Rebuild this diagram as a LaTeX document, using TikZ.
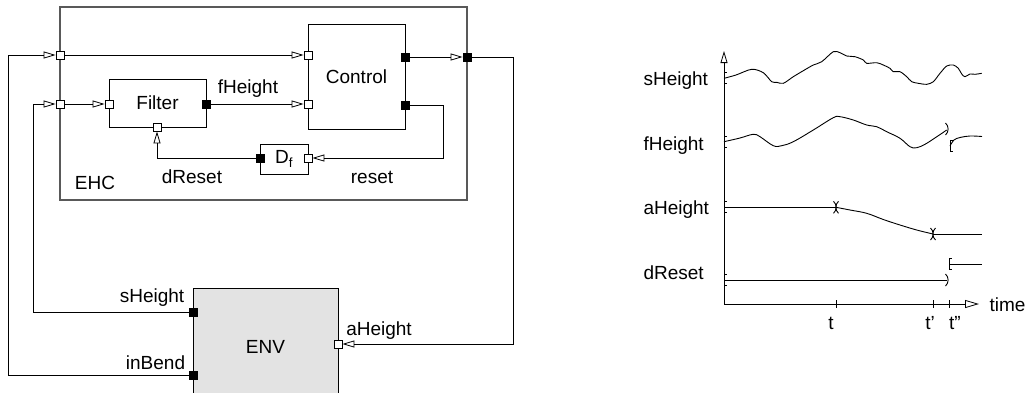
\documentclass[tikz,border=0pt]{standalone}
\usepackage{fontspec}
\setmainfont{Liberation Sans}
\usetikzlibrary{arrows.meta, positioning}

\tikzset{
    block/.style={draw, line width=0.9pt, inner sep=0pt},
    inport/.style={draw, fill=white, line width=0.8pt, minimum size=8pt, inner sep=0pt},
    outport/.style={draw, fill=black, line width=0.8pt, minimum size=8pt, inner sep=0pt},
    sig/.style={line width=0.8pt, -{Triangle[open, length=12pt, width=7pt]}},
    wave/.style={line width=0.9pt},
}
\newcommand\markbr[2]{\draw[wave] (#1+2.5,#2-5.5) -- (#1,#2-5.5) -- (#1,#2+5.5) -- (#1+2.5,#2+5.5);}
\newcommand\markrp[2]{\draw[wave] (#1-1.5,#2-6) .. controls (#1+2,#2-3) and (#1+2,#2+3) .. (#1-1.5,#2+6);}
\newcommand\marklp[2]{\draw[wave] (#1+1.5,#2-6) .. controls (#1-2,#2-3) and (#1-2,#2+3) .. (#1+1.5,#2+6);}

\begin{document}
\begin{tikzpicture}[x=1pt, y=-1pt, font=\fontsize{19}{23}\selectfont]
    \useasboundingbox (0,0) rectangle (1026,392);
    \clip (0,0) rectangle (1026,392);

    \node[block, draw=black!65, line width=1.2pt, minimum width=407pt, minimum height=193pt] (ehc) at (263.5,103.5) {};
    \node[block, minimum width=97pt, minimum height=105pt] (control) at (356.5,76.5) {Control};
    \node[block, minimum width=97pt, minimum height=48pt] (filter) at (157.5,103) {Filter};
    \node[block, minimum width=48pt, minimum height=30pt] (df) at (284,159) {D\textsubscript{f}};
    \node[block, fill=black!11, minimum width=145pt, minimum height=118pt] (env) at (265.5,347) {ENV};

    \node[inport] (e1) at (60,55) {};
    \node[inport] (e2) at (60,104) {};
    \node[outport] (eo) at (467,57) {};
    \node[inport] (c1) at (308,55) {};
    \node[inport] (c2) at (308,104) {};
    \node[outport] (co1) at (405,57) {};
    \node[outport] (co2) at (405,105) {};
    \node[inport] (f1) at (109,104) {};
    \node[outport] (fo) at (206,104) {};
    \node[inport] (fr) at (157,127) {};
    \node[outport] (d1) at (260,158) {};
    \node[inport] (d2) at (308,158) {};
    \node[outport] (s) at (193,312) {};
    \node[outport] (b) at (193,375) {};
    \node[inport] (a) at (338,344) {};

    \coordinate (lx1) at (8,375);
    \coordinate (lx2) at (33,312);
    \coordinate (rx1) at (513,57);
    \coordinate (rx2) at (443,105);

    \draw[sig] (b) -- (lx1) |- (e1);
    \draw[sig] (s) -- (lx2) |- (e2);
    \draw[sig] (e1) -- (c1);
    \draw[sig] (e2) -- (f1);
    \draw[sig] (fo) -- (c2);
    \draw[sig] (co1) -- (eo);
    \draw[sig] (eo) -- (rx1) |- (a);
    \draw[sig] (co2) -- (rx2) |- (d2);
    \draw[sig] (d1) -| (fr);

    \node (fh) at (248,89) {fHeight};
    \node (dr) at (192,177) {dReset};
    \node (rs) at (372,177) {reset};
    \node (ehcl) at (95,183) {EHC};
    \node (sl) at (152,298) {sHeight};
    \node (il) at (155.5,363) {inBend};
    \node (al) at (379,331) {aHeight};

    \coordinate (o) at (724,304);
    \coordinate (ytop) at (724,51);
    \coordinate (xend) at (979,304);
    \draw[sig] (o) -- (ytop);
    \draw[line width=0.8pt, -{Triangle[open, length=14pt, width=8pt]}] (o) -- (xend);
    \node[anchor=west] (time) at (986,305) {time};

    \foreach \x/\lx/\n/\l in {836/831/t1/t, 933/930/t2/t', 949/955/t3/t''} {
        \draw[line width=0.8pt] (\x,300) -- (\x,308);
        \node (\n) at (\lx,323) {\l};
    }

    \node[anchor=west] (sh) at (640,81) {sHeight};
    \node[anchor=west] (fhl) at (640,146) {fHeight};
    \node[anchor=west] (ah) at (640,210) {aHeight};
    \node[anchor=west] (drl) at (640,273) {dReset};

    \draw[wave] plot[smooth, tension=0.5] coordinates {(724,78.3) (736,75) (751.7,69.3) (763.3,72.7) (771.7,81.7) (776.7,82.3) (783.3,83.3) (793.3,76.7) (803.3,70.7) (813.3,65) (821.7,61.7) (833.3,51.7) (840,52.7) (846.7,56) (855,56.7) (863.3,60) (866.7,63.3) (876.7,62.7) (883.3,65) (890,68.3) (893.3,71.7) (900,71.7) (906.7,76.7) (911.7,81.7) (918.3,83.3) (926.7,84.3) (933.3,81.7) (940,73.3) (946.7,66) (953.3,65) (958.3,68.3) (961.7,74) (965,76.7) (970,74) (975,74.3) (981.7,73.3)};
    \markbr{724}{78.3}

    \draw[wave] plot[smooth, tension=0.6] coordinates {(724,141.7) (740,138) (753.3,134.3) (760,136.7) (773.3,145.7) (781.7,145.7) (793.3,141.7) (813.3,130) (833.3,117.7) (840,116.7) (853.3,120) (866.7,125) (876.7,126.7) (886.7,131.7) (900,138.3) (910,146.7) (916.7,147.7) (926.7,143.3) (946.7,130)};
    \markbr{724}{141.7}
    \markrp{947}{129}
    \draw[wave] plot[smooth, tension=0.6] coordinates {(950,146) (954,140) (960,137.5) (970,136) (982,136.5)};
    \markbr{950}{146}

    \draw[wave] (724,207.3) -- (836,207.3);
    \draw[wave] plot[smooth, tension=0.6] coordinates {(836,207.3) (850,210) (866.7,213.3) (883.3,219.5) (900,225) (916.7,230) (933,234)};
    \draw[wave] (933,234) -- (982,234);
    \markbr{724}{207.3}
    \markrp{835}{207.3}
    \marklp{837}{207.3}
    \markrp{932}{234}
    \marklp{934}{234}

    \draw[wave] (724,280) -- (947,280);
    \markbr{724}{280}
    \markrp{947}{280}
    \draw[wave] (949,264) -- (982,264);
    \markbr{949}{264}
\end{tikzpicture}
\end{document}
